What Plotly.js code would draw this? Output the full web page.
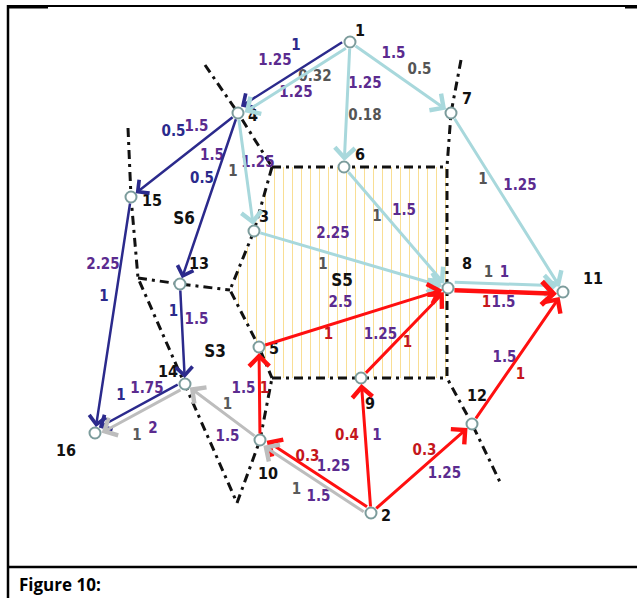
<!DOCTYPE html>
<html>
<head>
<meta charset="utf-8">
<script src="https://cdn.plot.ly/plotly-3.0.1.min.js"></script>
<style>html,body{margin:0;padding:0;background:#fff}#chart{width:637px;height:598px}</style>
</head>
<body>
<div id="chart"></div>
<script>
// ---------- DATA ----------
const nodeIds = [1, 2, 3, 4, 5, 6, 7, 8, 9, 10, 11, 12, 13, 14, 15, 16];
const nodeX   = [350, 371, 254, 238, 259, 344, 451, 448, 361, 260, 563, 472, 180, 185, 131, 95];
const nodeY   = [42, 513, 231, 113, 347, 167, 113, 288, 378, 440, 292, 424, 284, 384, 197, 433];

const edgeFrom = [1, 1, 1, 1, 7, 4, 6, 3, 8, 8, 5, 9, 12, 10, 2, 2, 2, 2, 10, 14, 14, 4, 4, 15, 13];
const edgeTo   = [4, 4, 6, 7, 11, 3, 8, 8, 11, 11, 8, 8, 11, 5, 10, 10, 9, 12, 14, 16, 16, 15, 13, 16, 14];
const edgeKind = ['navy','cyan','cyan','cyan','cyan','cyan','cyan','cyan','cyan','red','red','red','red','red','red','gray','red','red','gray','navy','gray','navy','navy','navy','navy'];
const edgeValueA = ['1','0.32','0.18','0.5','1','1','1','1','1','1','1','1','1','1','0.3','1','0.4','0.3','1','1','1','0.5','0.5','1','1'];
const edgeValueB = ['1.25','1.25','1.25','1.5','1.25','1.25','1.5','2.25','1','1.5','2.5','1.25','1.5','1.5','1.25','1.5','1','1.25','1.5','1.75','2','1.5','1.5','2.25','1.5'];

const regionNames = ['S6', 'S5', 'S3'];
const figureCaption = 'Figure 10:';

// separating cut lines (dash-dot)
const cutLines = [
  [[205,65],[238,113],[272,167]],
  [[272,167],[447,167]],
  [[272,167],[254,231],[230,290],[258,345],[272,378]],
  [[272,378],[447,378]],
  [[461,60],[451,113],[447,167],[447,378],[472,424],[500,482]],
  [[128,128],[131,197],[138,278],[185,384],[237,503]],
  [[138,278],[180,284],[230,290]],
  [[237,503],[260,440],[272,378]]
];
const s5Region = [[272,167],[447,167],[447,378],[272,378],[258,345],[230,290],[254,231]];

// ---------- PLACEMENT / STYLE ----------
const kindStyle = {
  navy: {line:'#2b2a8c', width:2.5, text:'#2b2a8c'},
  cyan: {line:'#a8d8dc', width:3,   text:'#555555'},
  red:  {line:'#ff1010', width:3,   text:'#c4161c'},
  gray: {line:'#bdbdbd', width:3,   text:'#5a5a5a'}
};
const purple = '#5b2b8f';
// perpendicular shift of parallel edges (px)
const edgeShift = [4,-3,0,0,0,0,0,0,-6,2,0,0,0,0,3,-3,0,0,0,3,-3,0,0,0,0];
const edgeWidthBoost = [0,0,0,0,0,0,0,0,0,1.5,0,0,0,0,0,0,0,0,0,0,0,0,0,0,0];
// label offsets relative to edge midpoint
const offA = [[2,-31],[21,0],[18,12],[19,-7],[-24,-22],[-13,0],[-19,-10],[-28,6],[-17,-17],[-19,13],[-25,18],[3,10],[3,17],[5,-4],[-8,-19],[-19,14],[-19,-9],[3,-17],[5,-7],[-19,-12],[-3,28],[-11,-23],[-7,-19],[-9,-18],[-9,-22]];
const offB = [[-19,-16],[2,16],[18,-20],[-7,-23],[13,-16],[12,-9],[8,-16],[-18,-25],[-1,-17],[-2,13],[-13,-14],[-24,2],[-13,0],[-16,-4],[18,-9],[3,21],[11,-9],[23,6],[5,25],[7,-19],[13,21],[12,-28],[3,-42],[-10,-50],[14,-14]];
const nodeLabelOff = [[10,-10],[15,4],[10,-13],[15,4],[15,3],[16,-11],[16,-13],[19,-23],[9,27],[8,35],[30,-12],[5,-27],[19,-19],[-17,-11],[21,5],[-29,19]];
const regionPos = [[184,220],[342,282],[215,353]];

const FONT = '"Liberation Sans Narrow", "DejaVu Sans Condensed", "Liberation Sans", sans-serif';

// ---------- BUILD ----------
const idx = id => nodeIds.indexOf(id);
const traces = [];
const annotations = [];
const shapes = [];

// hatched region S5
traces.push({
  x: s5Region.map(p=>p[0]).concat([s5Region[0][0]]),
  y: s5Region.map(p=>p[1]).concat([s5Region[0][1]]),
  mode:'lines', fill:'toself', line:{width:0, color:'rgba(0,0,0,0)'},
  fillcolor:'rgba(255,255,255,0)',
  fillpattern:{shape:'|', fgcolor:'rgba(246,205,95,0.75)', bgcolor:'rgba(255,255,255,0)', size:9, solidity:0.1},
  hoverinfo:'skip'
});

// cut lines
cutLines.forEach(pl => {
  traces.push({
    x: pl.map(p=>p[0]), y: pl.map(p=>p[1]), mode:'lines',
    line:{color:'#111', width:3, dash:'9px,5px,3px,5px'}, hoverinfo:'skip'
  });
});

// edges as arrows
const labX=[], labY=[], labT=[], labC=[];
edgeFrom.forEach((f,i) => {
  const a = idx(f), b = idx(edgeTo[i]);
  const fx = nodeX[a], fy = nodeY[a], tx = nodeX[b], ty = nodeY[b];
  const dx = tx-fx, dy = ty-fy, L = Math.hypot(dx,dy);
  const px = -dy/L, py = dx/L, s = edgeShift[i];
  const st = kindStyle[edgeKind[i]];
  annotations.push({
    x: tx+px*s, y: ty+py*s, ax: fx+px*s, ay: fy+py*s,
    xref:'x', yref:'y', axref:'x', ayref:'y', text:'',
    showarrow:true, arrowhead:4, arrowsize: edgeWidthBoost[i] ? 1.0 : 1.3,
    arrowwidth: st.width + edgeWidthBoost[i], arrowcolor: st.line,
    standoff:6, startstandoff:5
  });
  const mx = (fx+tx)/2, my = (fy+ty)/2;
  labX.push(mx+offA[i][0]); labY.push(my+offA[i][1]); labT.push(edgeValueA[i]); labC.push(st.text);
  labX.push(mx+offB[i][0]); labY.push(my+offB[i][1]); labT.push(edgeValueB[i]); labC.push(purple);
});

// nodes
traces.push({
  x: nodeX, y: nodeY, mode:'markers',
  marker:{symbol:'circle', size:11, color:'#ffffff', line:{color:'#7c9c9c', width:2}},
  hoverinfo:'skip'
});
// node labels
traces.push({
  x: nodeX.map((v,i)=>v+nodeLabelOff[i][0]), y: nodeY.map((v,i)=>v+nodeLabelOff[i][1]),
  mode:'text', text: nodeIds.map(String),
  textfont:{family:FONT, size:16, color:'#111', weight:'bold'}, hoverinfo:'skip'
});
// edge labels
traces.push({
  x: labX, y: labY, mode:'text', text: labT,
  textfont:{family:FONT, size:15, color: labC, weight:'bold'}, hoverinfo:'skip'
});
// region labels
traces.push({
  x: regionPos.map(p=>p[0]), y: regionPos.map(p=>p[1]), mode:'text', text: regionNames,
  textfont:{family:FONT, size:17, color:'#111', weight:'bold'}, hoverinfo:'skip'
});

// frame
shapes.push({type:'line', xref:'x', yref:'y', x0:8, y0:6, x1:637, y1:6, line:{color:'#000', width:2}});
shapes.push({type:'line', xref:'x', yref:'y', x0:8, y0:7, x1:48, y1:7, line:{color:'#000', width:3}});
shapes.push({type:'line', xref:'x', yref:'y', x0:625, y0:7, x1:637, y1:7, line:{color:'#000', width:3}});
shapes.push({type:'line', xref:'x', yref:'y', x0:8, y0:5, x1:8, y1:598, line:{color:'#000', width:2.5}});
shapes.push({type:'line', xref:'x', yref:'y', x0:8, y0:567, x1:637, y1:567, line:{color:'#000', width:2.5}});

annotations.push({
  x:17, y:584, xref:'x', yref:'y', xanchor:'left', yanchor:'middle', showarrow:false,
  text: figureCaption, font:{family:'"Open Sans", "Noto Sans", sans-serif', size:17, color:'#000', weight:'bold'}
});

const layout = {
  width:637, height:598, margin:{l:0,r:0,t:0,b:0,pad:0},
  paper_bgcolor:'#fff', plot_bgcolor:'#fff', showlegend:false,
  xaxis:{range:[0,637], visible:false, fixedrange:true},
  yaxis:{range:[598,0], visible:false, fixedrange:true},
  annotations: annotations, shapes: shapes
};
Plotly.newPlot('chart', traces, layout, {staticPlot:true, displayModeBar:false});
</script>
</body>
</html>
